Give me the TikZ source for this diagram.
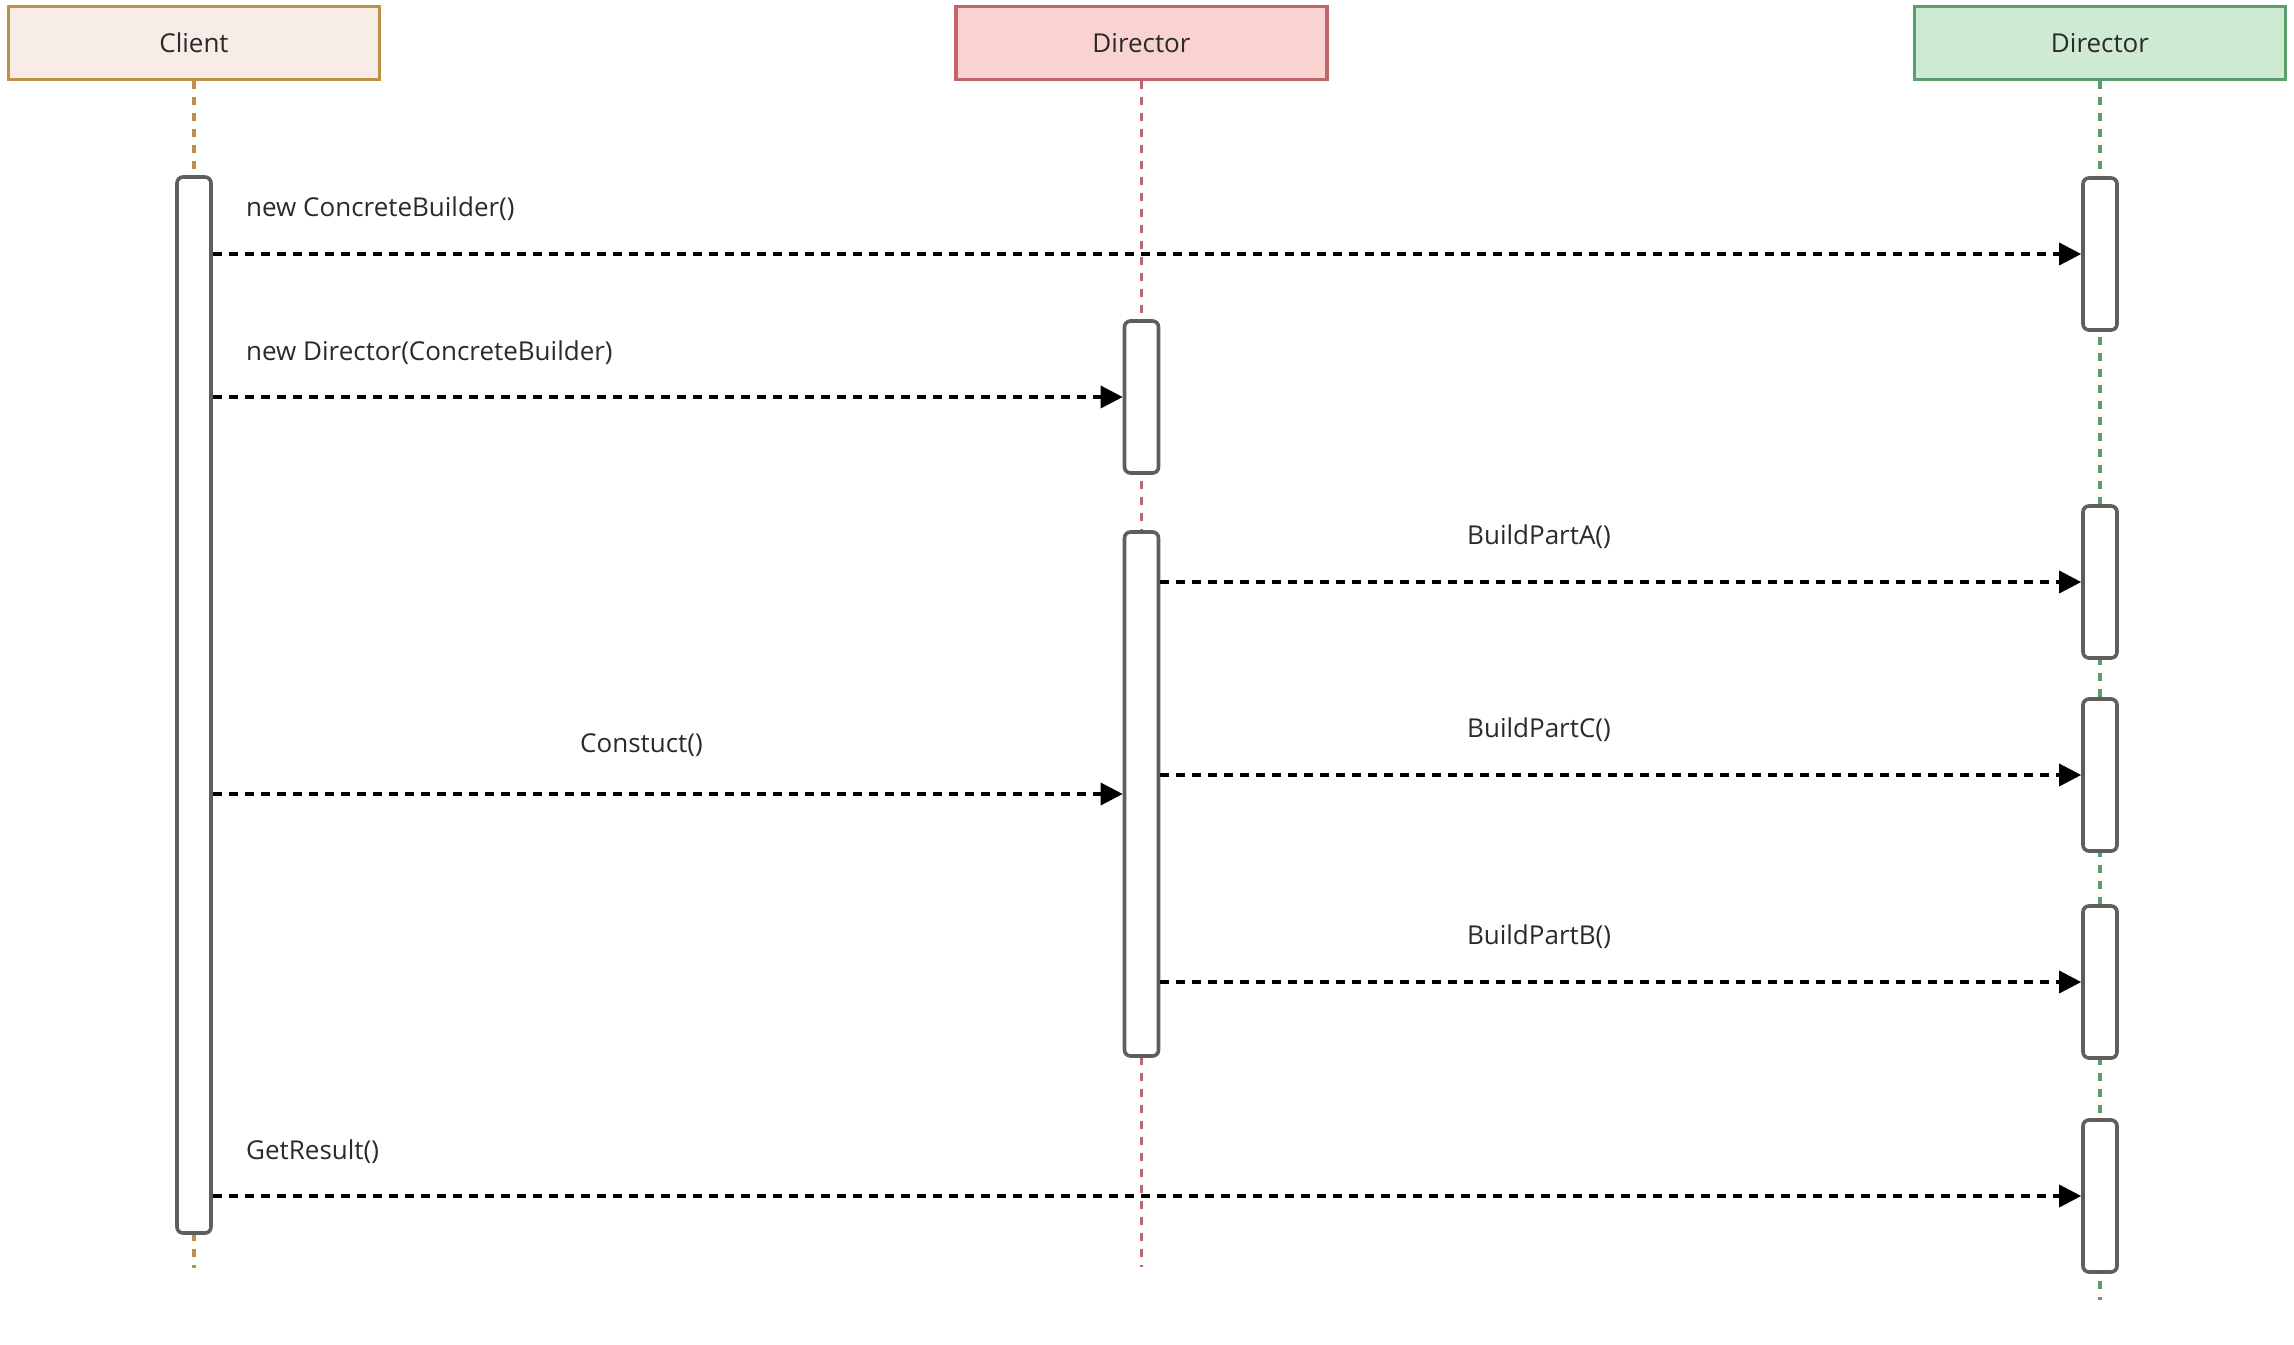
\documentclass[tikz,border=0pt]{standalone}
\usepackage{fontspec}
\setmainfont{Open Sans}
\usetikzlibrary{arrows.meta}

\definecolor{txt}{HTML}{2A2A2A}
\definecolor{clientfill}{HTML}{F7ECE6}
\definecolor{clientline}{HTML}{BE9148}
\definecolor{dirfill}{HTML}{FAD3D1}
\definecolor{dirline}{HTML}{C0666A}
\definecolor{bldfill}{HTML}{CFEAD2}
\definecolor{bldline}{HTML}{5B9E6B}
\definecolor{actgray}{HTML}{5E5E5E}

\newcommand{\lblfont}{\fontsize{26}{31}\selectfont}

\begin{document}
\begin{tikzpicture}[x=1pt,y=-1pt,
  head/.style={draw, line width=3.6pt, minimum width=371pt, minimum height=73pt,
    inner sep=0pt, font=\lblfont, text=txt},
  act/.style={draw=actgray, fill=white, line width=3.6pt, rounded corners=6pt,
    minimum width=34pt, minimum height=152pt, inner sep=0pt},
  life/.style={line width=3.6pt, dash pattern=on 8pt off 8pt},
  msg/.style={draw=black, line width=3.4pt, dash pattern=on 9pt off 7pt,
    -{Triangle[length=22pt,width=22pt]}},
  lbl/.style={font=\lblfont, text=txt, inner sep=0pt}]

\useasboundingbox (0,0) rectangle (2294,1344);

% participants
\node[head, draw=clientline, fill=clientfill] (client) at (194,43) {Client};
\node[head, draw=dirline, fill=dirfill] (director) at (1141.5,43) {Director};
\node[head, draw=bldline, fill=bldfill] (builder) at (2100,43) {Director};

% lifeline ends
\coordinate (clientend) at (194,1268);
\coordinate (directorend) at (1141.5,1267);
\coordinate (builderend) at (2100,1300);

% lifelines
\draw[life, draw=clientline] (client.south) -- (clientend);
\draw[life, draw=dirline] (director.south) -- (directorend);
\draw[life, draw=bldline] (builder.south) -- (builderend);

% activation bars
\node[act, minimum height=1056pt] (ca) at (194,705) {};
\node[act] (da1) at (1141.5,397) {};
\node[act, minimum height=524pt] (da2) at (1141.5,794) {};
\node[act] (ba1) at (2100,254) {};
\node[act] (ba2) at (2100,582) {};
\node[act] (ba3) at (2100,775) {};
\node[act] (ba4) at (2100,982) {};
\node[act] (ba5) at (2100,1196) {};

% messages
\draw[msg] (ba1.west -| ca.east) -- (ba1.west);
\draw[msg] (da1.west -| ca.east) -- (da1.west);
\draw[msg] (ba2.west -| da2.east) -- (ba2.west);
\draw[msg] (da2.west -| ca.east) -- (da2.west);
\draw[msg] (ba3.west -| da2.east) -- (ba3.west);
\draw[msg] (ba4.west -| da2.east) -- (ba4.west);
\draw[msg] (ba5.west -| ca.east) -- (ba5.west);

% message labels
\node[lbl, anchor=west] (l1) at (246,209) {new ConcreteBuilder()};
\node[lbl, anchor=west] (l2) at (246,353) {new Director(ConcreteBuilder)};
\node[lbl] (l3) at (1539,537) {BuildPartA()};
\node[lbl] (l4) at (641.5,745) {Constuct()};
\node[lbl] (l5) at (1539,730) {BuildPartC()};
\node[lbl] (l6) at (1539,936.5) {BuildPartB()};
\node[lbl, anchor=west] (l7) at (246,1152) {GetResult()};
\end{tikzpicture}
\end{document}
